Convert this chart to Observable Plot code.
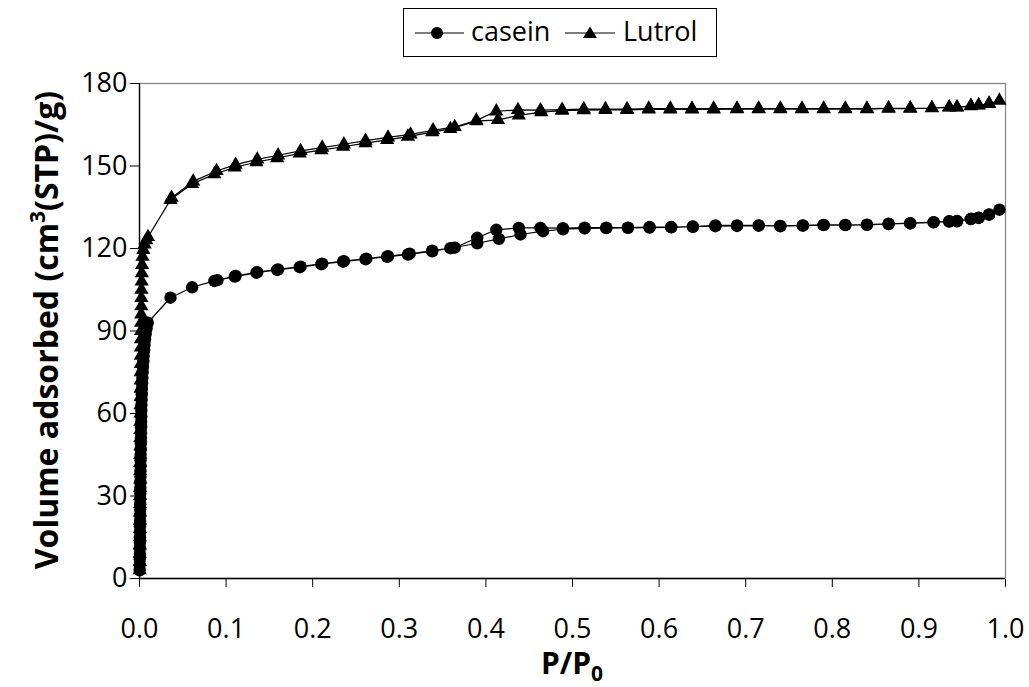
<!DOCTYPE html>
<html><head><meta charset="utf-8">
<script src="https://cdn.jsdelivr.net/npm/d3@7"></script>
<script src="https://cdn.jsdelivr.net/npm/@observablehq/plot@0.6"></script>
<style>
body{margin:0;background:#fff;font-family:"Open Sans",sans-serif;color:#000;}
#legend{position:relative;width:1029px;height:62px;}
#legend .box{position:absolute;left:403px;top:8px;width:314px;height:49px;border:1px solid #000;box-sizing:border-box;}
#legend .item{position:absolute;}
#legend .lbl{position:absolute;top:4px;font-size:27px;line-height:36px;}
#chart svg{display:block;}
</style>
</head><body>
<div id="legend"><div class="box">
  <svg class="item" style="left:11px;top:14px" width="49" height="20"><line x1="0" x2="49" y1="10" y2="10" stroke="#000" stroke-width="1.2"/><circle cx="22" cy="10" r="6" fill="#000"/></svg>
  <span class="lbl" style="left:67px">casein</span>
  <svg class="item" style="left:161px;top:14px" width="50" height="20"><line x1="0" x2="50" y1="10" y2="10" stroke="#000" stroke-width="1.2"/><path d="M25,3.5 L32,15 L18,15 Z" fill="#000"/></svg>
  <span class="lbl" style="left:219px">Lutrol</span>
</div></div>
<div id="chart"></div>
<script>
// Tick values
const xTicks = [0, 0.1, 0.2, 0.3, 0.4, 0.5, 0.6, 0.7, 0.8, 0.9, 1.0];
const yTicks = [0, 30, 60, 90, 120, 150, 180];

// casein: adsorption branch [P/P0, V]
const caseinAdsorption = [
  [0.0002,3],[0.0003,5],[0.0003,7],[0.0004,9],[0.0004,11],[0.0005,13],[0.0005,15],[0.0006,17],[0.0006,19],[0.0007,21],
  [0.0007,23],[0.0008,25],[0.0008,27],[0.0009,29],[0.0009,31],[0.001,33],[0.001,35],[0.0011,37],[0.0011,39],[0.0012,41],
  [0.0012,43],[0.0013,45],[0.0014,47],[0.0015,49],[0.0016,51],[0.0017,53],[0.0018,55],[0.0019,57],[0.002,59],[0.0021,61],
  [0.0022,63],[0.0024,65],[0.0026,67],[0.0028,69],[0.003,71],[0.0033,73],[0.0036,75],[0.004,77],[0.0044,79],[0.0048,81],
  [0.0053,83],[0.0058,85],[0.0064,87],[0.0072,89],[0.0082,91],[0.0095,93],
  [0.0358,102.1],[0.0608,105.9],[0.0865,108.2],[0.110,109.8],[0.135,111.2],[0.159,112.2],[0.185,113.2],[0.210,114.3],
  [0.235,115.2],[0.261,116.1],[0.286,117.0],[0.310,117.8],[0.338,119.0],[0.359,120.1],[0.390,121.9],[0.415,123.5],
  [0.440,125.1],[0.466,126.3],[0.489,127.0],[0.514,127.3],[0.539,127.4],[0.564,127.5],[0.589,127.6],[0.614,127.7],
  [0.639,127.9],[0.665,128.1],[0.690,128.2],[0.715,128.3],[0.740,128.1],[0.766,128.3],[0.790,128.5],[0.815,128.5],
  [0.840,128.6],[0.865,128.9],[0.890,129.1],[0.917,129.5],[0.935,129.8],[0.944,129.9],[0.960,130.7],[0.969,131.1],
  [0.981,132.3],[0.993,134.1]
];
// casein: desorption branch
const caseinDesorption = [
  [0.981,132.4],[0.969,131.2],[0.960,130.8],[0.944,130.0],[0.935,129.9],[0.917,129.6],[0.890,129.2],[0.865,129.0],
  [0.840,128.7],[0.815,128.6],[0.790,128.6],[0.766,128.4],[0.740,128.2],[0.715,128.4],[0.690,128.4],[0.665,128.4],
  [0.639,128.0],[0.614,127.8],[0.589,127.8],[0.564,127.6],[0.539,127.6],[0.514,127.6],[0.489,127.4],[0.463,127.5],
  [0.438,127.5],[0.412,126.8],[0.390,123.9],[0.364,120.3],[0.338,119.2],[0.312,118.1],[0.287,117.2],[0.262,116.3],
  [0.236,115.4],[0.211,114.5],[0.186,113.4],[0.160,112.4],[0.136,111.4],[0.111,110.0],[0.090,108.5]
];
// Lutrol: adsorption branch
const lutrolAdsorption = [
  [0.0002,3],[0.0003,6],[0.0003,9],[0.0004,12],[0.0004,15],[0.0005,18],[0.0005,21],[0.0006,24],[0.0006,27],[0.0007,30],
  [0.0007,33],[0.0008,36],[0.0008,39],[0.0009,42],[0.0009,45],[0.001,48],[0.001,51],[0.0011,54],[0.0011,57],[0.0012,60],
  [0.0012,63],[0.0013,66],[0.0013,69],[0.0014,72],[0.0014,75],[0.0015,78],[0.0015,81],[0.0016,84],[0.0017,87],[0.0018,90],
  [0.0019,93],[0.002,96],[0.0021,99],[0.0022,102],[0.0023,105],[0.0025,108],[0.0027,111],[0.003,114],[0.0035,117],
  [0.0045,119.5],[0.006,121.5],[0.0078,123],[0.0098,124.2],
  [0.0358,137.7],[0.0608,143.5],[0.0865,147.0],[0.110,149.5],[0.135,151.4],[0.159,152.9],[0.185,154.6],[0.210,155.8],
  [0.235,157.0],[0.261,158.3],[0.286,159.5],[0.310,160.7],[0.338,162.3],[0.359,163.5],[0.389,166.3],[0.414,166.8],
  [0.438,168.4],[0.464,169.6],[0.488,170.1],[0.513,170.3],[0.538,170.4],[0.563,170.4],[0.588,170.6],[0.613,170.6],
  [0.638,170.6],[0.663,170.6],[0.690,170.7],[0.715,170.7],[0.740,170.7],[0.765,170.7],[0.790,170.7],[0.815,170.7],
  [0.840,170.7],[0.865,170.9],[0.890,170.9],[0.915,171.0],[0.935,171.3],[0.944,171.3],[0.960,171.8],[0.969,172.0],
  [0.981,172.6],[0.993,173.8]
];
// Lutrol: desorption branch
const lutrolDesorption = [
  [0.981,172.7],[0.969,172.1],[0.960,171.9],[0.944,171.4],[0.935,171.4],[0.915,171.1],[0.890,171.0],[0.865,171.0],
  [0.840,170.9],[0.815,170.9],[0.790,170.9],[0.765,170.9],[0.740,170.9],[0.715,170.9],[0.690,170.9],[0.663,170.9],
  [0.638,170.9],[0.613,170.9],[0.588,170.9],[0.563,170.7],[0.538,170.7],[0.513,170.7],[0.488,170.5],[0.463,170.3],
  [0.437,170.4],[0.412,169.9],[0.389,166.6],[0.364,164.2],[0.339,163.0],[0.313,161.5],[0.287,160.4],[0.261,159.2],
  [0.236,157.9],[0.211,156.7],[0.186,155.5],[0.160,153.9],[0.136,152.4],[0.111,150.5],[0.089,148.2],[0.062,144.4],
  [0.037,138.5]
];

const toRows = (arr, series) => arr.map(([p, v]) => ({p, v, series}));
const casein = [...toRows(caseinAdsorption, "casein"), ...toRows(caseinDesorption, "casein")];
const lutrol = [...toRows(lutrolAdsorption, "Lutrol"), ...toRows(lutrolDesorption, "Lutrol")];

const plot = Plot.plot({
  width: 1029, height: 625,
  marginLeft: 139, marginRight: 24, marginTop: 21, marginBottom: 109,
  style: {fontFamily: "'Open Sans', sans-serif", fontSize: "27px", color: "#000", background: "#fff", overflow: "visible"},
  x: {domain: [0, 1], ticks: xTicks, tickFormat: d => d.toFixed(1), label: null, tickSize: 9, tickPadding: 31},
  y: {domain: [0, 180], ticks: yTicks, label: null, tickSize: 9, tickPadding: 3},
  marks: [
    Plot.frame({stroke: "#888", strokeWidth: 1.3}),
    Plot.ruleX([0], {stroke: "#000", strokeWidth: 1.3}),
    Plot.ruleY([0], {stroke: "#000", strokeWidth: 1.3}),
    Plot.line(casein, {x: "p", y: "v", stroke: "#000", strokeWidth: 1.2}),
    Plot.dot(casein, {x: "p", y: "v", symbol: "circle", r: 6.2, fill: "#000", stroke: "none"}),
    Plot.line(lutrol, {x: "p", y: "v", stroke: "#000", strokeWidth: 1.2}),
    Plot.dot(lutrol, {x: "p", y: "v", symbol: "triangle", r: 5.3, fill: "#000", stroke: "none"})
  ]
});
document.getElementById("chart").appendChild(plot);

const svg = d3.select(plot);
// y axis title
const yt = svg.append("text")
  .attr("transform", "translate(58,268) rotate(-90)")
  .attr("text-anchor", "middle")
  .attr("font-family", "'Open Sans', sans-serif")
  .attr("font-weight", "bold").attr("font-size", 32).attr("fill", "#000");
yt.append("tspan").text("Volume adsorbed (cm");
yt.append("tspan").attr("dy", -13).attr("font-size", 21).text("3");
yt.append("tspan").attr("dy", 13).text("(STP)/g)");
// x axis title
const xt = svg.append("text")
  .attr("x", 572).attr("y", 612)
  .attr("text-anchor", "middle")
  .attr("font-family", "'Open Sans', sans-serif")
  .attr("font-weight", "bold").attr("font-size", 30).attr("fill", "#000");
xt.append("tspan").text("P/P");
xt.append("tspan").attr("dy", 7).attr("font-size", 21).text("0");
</script>
</body></html>
